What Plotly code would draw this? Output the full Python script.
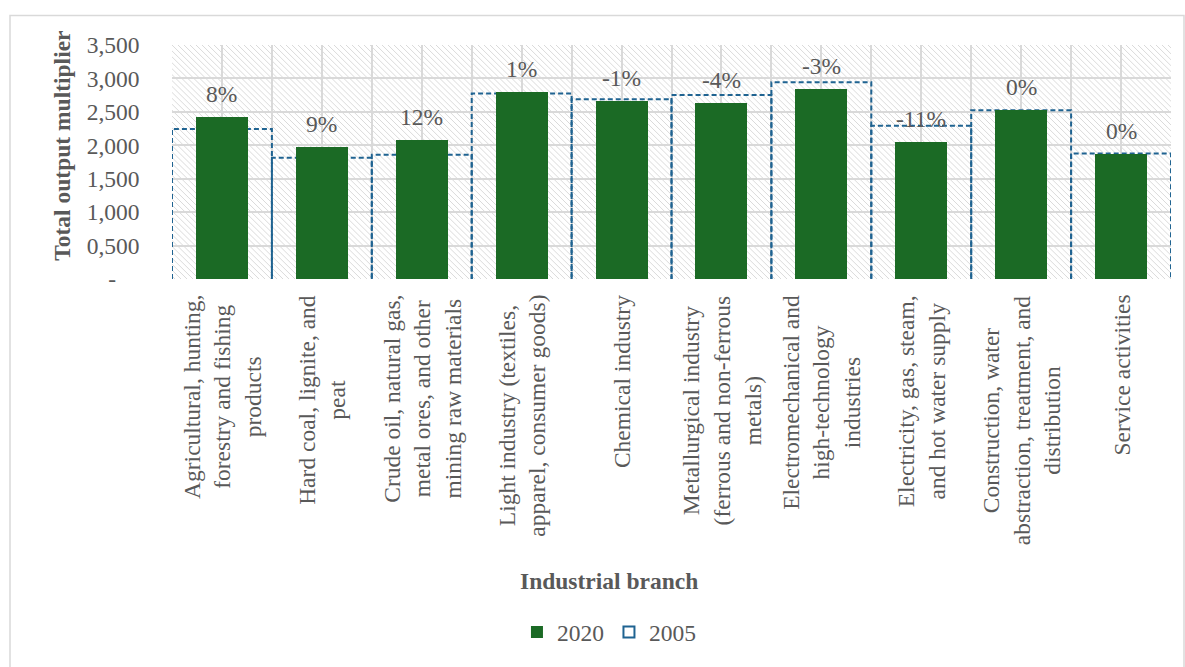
import base64
import plotly.graph_objects as go

# Industrial branches (category axis), multipliers for both years
branches = [
    "Agricultural, hunting,<br>forestry and fishing<br>products",
    "Hard coal, lignite, and<br>peat",
    "Crude oil, natural gas,<br>metal ores, and other<br>mining raw materials",
    "Light industry (textiles,<br>apparel, consumer goods)",
    "Chemical industry",
    "Metallurgical industry<br>(ferrous and non-ferrous<br>metals)",
    "Electromechanical and<br>high-technology<br>industries",
    "Electricity, gas, steam,<br>and hot water supply",
    "Construction, water<br>abstraction, treatment, and<br>distribution",
    "Service activities",
]
mult_2020 = [2422, 1974, 2078, 2796, 2660, 2639, 2846, 2048, 2525, 1871]
mult_2005 = [2245, 1812, 1857, 2776, 2690, 2751, 2943, 2294, 2525, 1876]

y_ticks = [0, 500, 1000, 1500, 2000, 2500, 3000, 3500]
y_tick_text = ["-\u00a0\u00a0\u00a0\u00a0", "0,500", "1,000", "1,500",
               "2,000", "2,500", "3,000", "3,500"]

# Change between 2005 and 2020, in whole percent
change_pct = [int(round((a / b - 1) * 100)) for a, b in zip(mult_2020, mult_2005)]

FONT = "Liberation Serif, Times New Roman, serif"
GREY_TEXT = "#595959"
GRID = "#d9d9d9"
GREEN = "#1b6a25"
BLUE = "#1f6391"
FS = 23.5

idx = list(range(len(branches)))

# Open rectangles outlining the 2005 values (one full category wide)
xs, ys = [], []
for i, v in zip(idx, mult_2005):
    xs += [i - 0.5, i - 0.5, i + 0.5, i + 0.5, None]
    ys += [0, v, v, 0, None]

fig = go.Figure()

fig.add_trace(go.Bar(
    x=idx, y=mult_2020, width=0.52, name="2020",
    marker=dict(color=GREEN, line=dict(width=0)),
    zorder=2,
))
fig.add_trace(go.Scatter(
    x=xs, y=ys, mode="lines", name="2005", showlegend=False,
    legendgroup="2005",
    line=dict(color=BLUE, width=2, dash="5px,3px"),
    zorder=1,
))
# legend key for the dashed 2005 outline
fig.add_trace(go.Scatter(
    x=[None], y=[None], mode="markers", name="2005", legendgroup="2005",
    marker=dict(symbol="square-open", size=11, color=BLUE,
                line=dict(width=2, color=BLUE)),
))

# Percent change labels above the 2020 bars
for i, v, p in zip(idx, mult_2020, change_pct):
    fig.add_annotation(
        x=i, y=v, xref="x", yref="y", text=f"{p}%", showarrow=False,
        yanchor="middle", yshift=23,
        font=dict(family=FONT, size=FS, color=GREY_TEXT),
    )

# Rotated category labels under the axis
for i, name in zip(idx, branches):
    fig.add_annotation(
        x=i, y=0, xref="x", yref="paper", text=name, showarrow=False,
        textangle=-90, align="center", xanchor="center", yanchor="top",
        yshift=-14,
        font=dict(family=FONT, size=FS, color=GREY_TEXT),
    )

# Axis titles
fig.add_annotation(
    x=-0.1101, y=0.5696, xref="paper", yref="paper",
    text="<b>Total output multiplier</b>", showarrow=False, textangle=-90,
    xanchor="center", yanchor="middle",
    font=dict(family=FONT, size=FS, color=GREY_TEXT),
)
fig.add_annotation(
    x=0.4374, y=-1.291, xref="paper", yref="paper",
    text="<b>Industrial branch</b>", showarrow=False,
    xanchor="center", yanchor="middle",
    font=dict(family=FONT, size=FS, color=GREY_TEXT),
)

# Light diagonal hatch filling the plot area
PW, PH = 999, 237
hatch_svg = (
    f'<svg xmlns="http://www.w3.org/2000/svg" width="{PW}" height="{PH}" shape-rendering="crispEdges">'
    '<defs><pattern id="h" patternUnits="userSpaceOnUse" width="6" height="6">'
    '<path d="M-1,-1 L7,7 M-1,5 L1,7 M5,-1 L7,1" stroke="#dadada" stroke-width="1"/>'
    '</pattern></defs>'
    f'<rect width="{PW}" height="{PH}" fill="white"/>'
    f'<rect width="{PW}" height="{PH}" fill="url(#h)"/>'
    '</svg>'
)
hatch_uri = "data:image/svg+xml;base64," + base64.b64encode(hatch_svg.encode()).decode()
fig.add_layout_image(
    source=hatch_uri, xref="paper", yref="paper", x=0, y=1,
    sizex=1, sizey=1, xanchor="left", yanchor="top",
    sizing="stretch", layer="below",
)

# Chart-area frame
fig.add_shape(
    type="rect", xref="paper", yref="paper",
    x0=(10 - 172) / PW, x1=(1184 - 172) / PW,
    y0=(282 - 700) / PH, y1=(282 - 15) / PH,
    line=dict(color=GRID, width=1.5), fillcolor="rgba(0,0,0,0)", layer="below",
)

fig.update_layout(
    width=1185, height=667,
    margin=dict(l=172, r=14, t=45, b=385),
    paper_bgcolor="white", plot_bgcolor="rgba(0,0,0,0)",
    barmode="overlay", bargap=0,
    font=dict(family=FONT, size=FS, color=GREY_TEXT),
    showlegend=True,
    legend=dict(
        orientation="h", x=0.4374, xanchor="center", y=-1.51, yanchor="middle",
        font=dict(family=FONT, size=FS, color=GREY_TEXT),
        itemwidth=30, bgcolor="rgba(0,0,0,0)", traceorder="normal",
    ),
    xaxis=dict(
        type="linear", range=[-0.5, 9.5], showticklabels=False,
        tickmode="array", tickvals=idx, ticks="",
        showgrid=True, gridcolor=GRID, gridwidth=1.5, zeroline=False,
        minor=dict(tickmode="array", tickvals=[i - 0.5 for i in idx] + [9.5],
                   showgrid=True, gridcolor=GRID, gridwidth=1.5, ticks=""),
        showline=True, linecolor=GRID, linewidth=1.5, mirror=True,
    ),
    yaxis=dict(
        range=[0, 3500], tickmode="array", tickvals=y_ticks, ticktext=y_tick_text,
        ticks="", ticklabelstandoff=26,
        tickfont=dict(family=FONT, size=FS, color=GREY_TEXT),
        showgrid=True, gridcolor=GRID, gridwidth=1.5, zeroline=False,
        showline=True, linecolor=GRID, linewidth=1.5, mirror=True,
    ),
)

fig.write_html("out.html")
